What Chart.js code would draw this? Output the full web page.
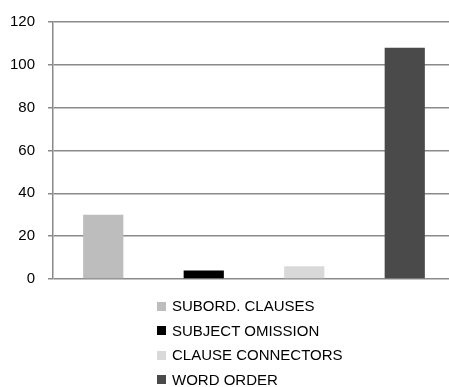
<!DOCTYPE html>
<html>
<head>
<meta charset="utf-8">
<script src="https://cdn.jsdelivr.net/npm/chart.js@4.4.1/dist/chart.umd.min.js"></script>
<style>
  html, body { margin: 0; padding: 0; background: #fff; overflow: hidden; }
  #wrap { position: relative; width: 449px; height: 387px; overflow: hidden; }
  #chart { position: absolute; left: 0; top: 0; }
  #legend { position: absolute; left: 157px; top: 294px; font-family: "Liberation Sans", Arial, sans-serif; font-size: 15px; color: #000; }
  #legend .row { display: flex; align-items: center; height: 24.5px; line-height: 24.5px; white-space: nowrap; }
  #legend .box { width: 9px; height: 9px; margin-right: 6px; flex: none; }
</style>
</head>
<body>
<div id="wrap">
  <canvas id="chart" width="460" height="387"></canvas>
  <div id="legend"></div>
</div>
<script>
// Error types and their counts
const categories = ['SUBORD. CLAUSES', 'SUBJECT OMISSION', 'CLAUSE CONNECTORS', 'WORD ORDER'];
const counts = [30, 4, 6, 108];
const barColors = ['#bdbdbd', '#000000', '#d9d9d9', '#4a4a4a'];
const yTicks = [0, 20, 40, 60, 80, 100, 120];

const gridColor = '#8a8a8a';
const fontFamily = '"Liberation Sans", Arial, sans-serif';

new Chart(document.getElementById('chart'), {
  type: 'bar',
  data: {
    labels: categories,
    datasets: [{
      data: counts,
      backgroundColor: barColors,
      borderWidth: 0,
      categoryPercentage: 0.4,
      barPercentage: 1.0
    }]
  },
  options: {
    responsive: false,
    devicePixelRatio: 1,
    animation: false,
    layout: { padding: { top: 20, right: 5, bottom: 108, left: 0 } },
    plugins: {
      legend: { display: false },
      tooltip: { enabled: false }
    },
    scales: {
      x: { display: false },
      y: {
        min: yTicks[0],
        max: yTicks[yTicks.length - 1],
        afterBuildTicks: (scale) => { scale.ticks = yTicks.map(v => ({ value: v })); },
        afterFit: (scale) => { scale.width = 53; },
        ticks: {
          color: '#000',
          font: { family: fontFamily, size: 15 },
          padding: 13
        },
        grid: {
          color: gridColor,
          lineWidth: 1.5,
          tickLength: 5,
          drawTicks: true
        },
        border: { display: true, color: gridColor, width: 1.5 }
      }
    }
  }
});

// Vertical legend under the plot
const legend = document.getElementById('legend');
categories.forEach((name, i) => {
  const row = document.createElement('div');
  row.className = 'row';
  const box = document.createElement('span');
  box.className = 'box';
  box.style.background = barColors[i];
  const label = document.createElement('span');
  label.textContent = name;
  row.appendChild(box);
  row.appendChild(label);
  legend.appendChild(row);
});
</script>
</body>
</html>
